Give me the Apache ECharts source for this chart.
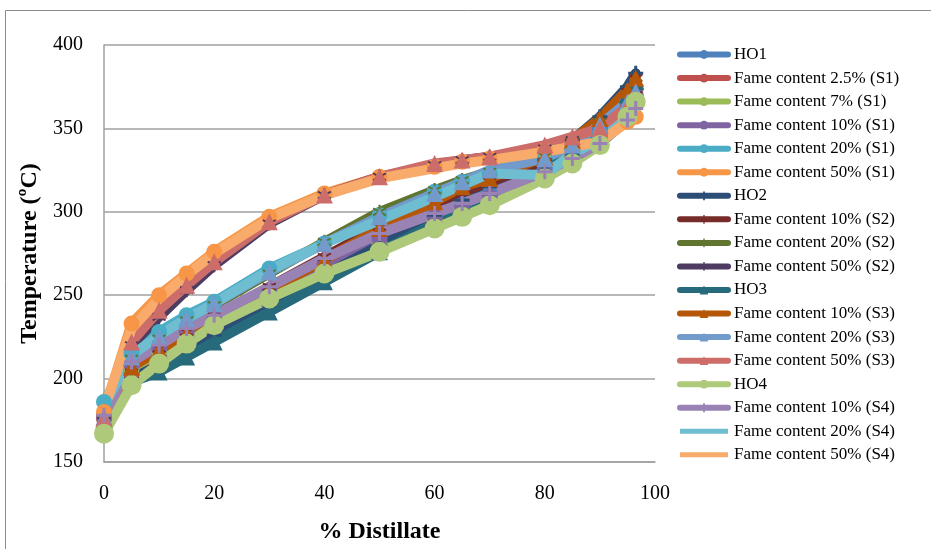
<!DOCTYPE html>
<html>
<head>
<meta charset="utf-8">
<script src="https://cdn.jsdelivr.net/npm/echarts@6/dist/echarts.min.js"></script>
<style>html,body{margin:0;padding:0;background:#fff;}#c{width:931px;height:549px;}</style>
</head>
<body>
<div id="c"></div>
<script>
// % distillate points (x)
const distillate = [0, 5, 10, 15, 20, 30, 40, 50, 60, 65, 70, 80, 85, 90, 95, 96.5];
const xTicks = [0, 20, 40, 60, 80, 100];
const yTicks = [150, 200, 250, 300, 350, 400];

const seriesNames = [
  'HO1', 'Fame content 2.5% (S1)', 'Fame content 7% (S1)', 'Fame content 10% (S1)',
  'Fame content 20% (S1)', 'Fame content 50% (S1)', 'HO2', 'Fame content 10% (S2)',
  'Fame content 20% (S2)', 'Fame content 50% (S2)', 'HO3', 'Fame content 10% (S3)',
  'Fame content 20% (S3)', 'Fame content 50% (S3)', 'HO4', 'Fame content 10% (S4)',
  'Fame content 20% (S4)', 'Fame content 50% (S4)'
];

// temperatures (°C)
const ho1      = [178, 205, 214, 224, 233, 250, 266, 282, 297, 304, 311, 326, 337, 350, 366, 374];
const s1_2_5   = [176, 203, 212, 221, 230, 247, 264, 280, 293, 299, 306, 322, 333, 345, 362, 370];
const s1_7     = [178, 206, 216, 226, 235, 251, 266, 281, 295, 301, 307, 322, 331, 342, 358, 365];
const s1_10    = [177, 208, 218, 228, 236, 253, 269, 284, 297, 303, 309, 323, 333, 344, 360, 368];
const s1_20    = [186, 215, 228, 238, 246, 266, 281, 298, 312, 318, 323, 332, 338, 345, 360, 368];
const s1_50    = [180, 233, 250, 263, 276, 297, 311, 321, 327, 330, 332, 337, 340, 342, 354, 357];
const ho2      = [172, 200, 208, 218, 226, 244, 262, 280, 298, 307, 315, 331, 343, 357, 375, 383];
const s2_10    = [175, 207, 218, 228, 237, 255, 273, 291, 305, 312, 318, 330, 341, 354, 372, 380];
const s2_20    = [176, 212, 224, 235, 244, 263, 282, 300, 313, 319, 324, 333, 342, 354, 370, 377];
const s2_50    = [174, 220, 237, 253, 268, 293, 310, 321, 328, 331, 333, 338, 343, 350, 365, 370];
const ho3      = [175, 198, 204, 213, 222, 240, 258, 276, 293, 300, 308, 325, 337, 352, 370, 378];
const s3_10    = [176, 207, 217, 227, 236, 253, 271, 290, 306, 315, 320, 333, 343, 356, 373, 380];
const s3_20    = [177, 213, 225, 236, 245, 264, 281, 297, 311, 318, 325, 332, 340, 352, 366, 372];
const s3_50    = [176, 222, 241, 256, 270, 294, 310, 321, 329, 331, 333, 340, 345, 350, 363, 368];
const ho4      = [167, 196, 209, 221, 232, 248, 263, 276, 290, 297, 304, 320, 329, 340, 357, 366];
const s4_10    = [178, 210, 220, 230, 238, 255, 272, 287, 299, 305, 311, 324, 332, 341, 355, 362];
const s4_20    = [184, 214, 226, 236, 245, 265, 281, 295, 309, 316, 323, 322, 335, 343, 356, 360];
const s4_50    = [182, 230, 248, 262, 275, 296, 310, 320, 326, 329, 331, 336, 339, 342, 354, 357];

const seriesValues = [ho1, s1_2_5, s1_7, s1_10, s1_20, s1_50, ho2, s2_10, s2_20, s2_50,
  ho3, s3_10, s3_20, s3_50, ho4, s4_10, s4_20, s4_50];

const colors = ['#4F81BD', '#C0504D', '#9BBB59', '#8064A2', '#4BACC6', '#F79646',
  '#2C4D75', '#772C2A', '#5F7530', '#4D3B62', '#276A7C', '#B65708',
  '#729ACA', '#CD6D6A', '#AFC97A', '#9983B5', '#6FBDD1', '#F9AB6B'];

const PLUS = 'path://M4,0h2v4h4v2h-4v4h-2v-4h-4v-2h4z';
const STAR = 'path://M4.3,0h1.4v3.8l3.2,-1.9l0.7,1.2l-3.2,1.9l3.2,1.9l-0.7,1.2l-3.2,-1.9v3.8h-1.4v-3.8l-3.2,1.9l-0.7,-1.2l3.2,-1.9l-3.2,-1.9l0.7,-1.2l3.2,1.9z';
const LINE_ONLY = 'path://M0,0h0.01v0.01h-0.01zM0,3h48v5h-48zM47.99,10.99h0.01v0.01h-0.01z';
const symbols = ['circle', 'circle', 'circle', 'circle', 'circle', 'circle',
  PLUS, STAR, STAR, STAR, 'triangle', 'triangle', 'triangle', 'triangle',
  'circle', PLUS, 'none', 'none'];
const symSizes = [16, 16, 16, 16, 16, 16, 15, 14, 14, 14, 17, 17, 17, 17, 20, 15, 0, 0];

const series = seriesNames.map((name, i) => ({
  name: name,
  type: 'line',
  data: distillate.map((x, j) => [x, seriesValues[i][j]]),
  symbol: symbols[i],
  symbolSize: symSizes[i],
  showSymbol: symbols[i] !== 'none',
  lineStyle: { width: 10, color: colors[i], cap: 'round', join: 'round' },
  itemStyle: { color: colors[i], opacity: 1 },
  emphasis: { disabled: true },
  animation: false
}));

const chart = echarts.init(document.getElementById('c'));
chart.setOption({
  animation: false,
  backgroundColor: '#fff',
  color: colors,
  graphic: [{
    type: 'rect', shape: { x: 5.5, y: 10.5, width: 1000, height: 700 },
    style: { fill: 'none', stroke: '#8C8C8C', lineWidth: 1 }, silent: true, z: -1
  }],
  grid: { left: 104, right: 276, top: 45, bottom: 86, containLabel: false },
  legend: {
    orient: 'vertical', left: 672, top: 41,
    itemWidth: 48, itemHeight: 11, itemGap: 6.55,
    lineStyle: { width: 6 },
    textStyle: { fontFamily: 'Liberation Serif', fontSize: 17, color: '#000', padding: [0, 0, 0, 1] },
    data: seriesNames.map((n, i) => symbols[i] === 'none' ? { name: n, icon: LINE_ONLY } : { name: n })
  },
  xAxis: {
    type: 'value', min: xTicks[0], max: xTicks[xTicks.length - 1], interval: 20,
    name: '% Distillate', nameLocation: 'middle', nameGap: 58,
    nameTextStyle: { fontFamily: 'Liberation Serif', fontSize: 24, fontWeight: 'bold', color: '#000' },
    axisLine: { show: true, lineStyle: { color: '#A0A0A0', width: 1.5 } },
    axisTick: { show: false },
    axisLabel: { fontFamily: 'Liberation Serif', fontSize: 20, color: '#000', margin: 22 },
    splitLine: { show: false }
  },
  yAxis: {
    type: 'value', min: yTicks[0], max: yTicks[yTicks.length - 1], interval: 50,
    name: 'Temperature (ºC)', nameLocation: 'middle', nameGap: 59, nameRotate: 90,
    nameTextStyle: { fontFamily: 'Liberation Serif', fontSize: 24, fontWeight: 'bold', color: '#000' },
    axisLine: { show: true, lineStyle: { color: '#A0A0A0', width: 1.5 } },
    axisTick: { show: false },
    axisLabel: { fontFamily: 'Liberation Serif', fontSize: 20, color: '#000', margin: 21 },
    splitLine: { show: true, lineStyle: { color: '#A0A0A0', width: 1.5 } }
  },
  series: series
});
</script>
</body>
</html>
